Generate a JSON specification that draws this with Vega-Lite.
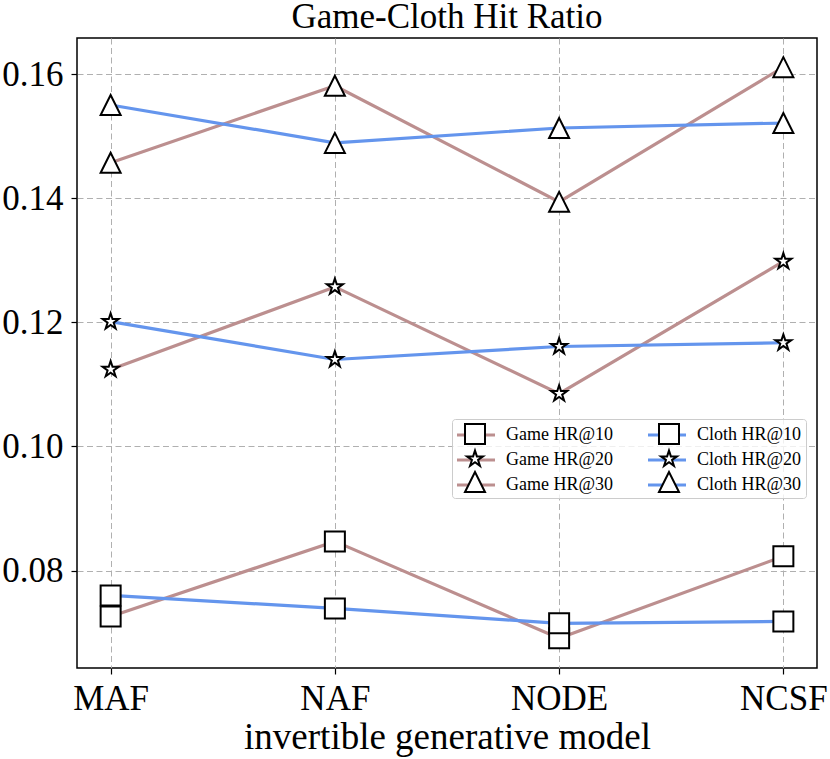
{
  "$schema": "https://vega.github.io/schema/vega-lite/v6.json",
  "autosize": {"type": "none"},
  "padding": {"left": 77, "top": 38, "right": 13, "bottom": 91},
  "width": 740,
  "height": 630,
  "title": {
    "text": "Game-Cloth Hit Ratio",
    "font": "Liberation Serif",
    "fontSize": 35,
    "fontWeight": "normal",
    "color": "black",
    "anchor": "middle",
    "offset": 3
  },
  "data": {
    "values": [
      {"model": "MAF", "series": "Game HR@10", "marker": "g10", "value": 0.0726},
      {"model": "NAF", "series": "Game HR@10", "marker": "g10", "value": 0.0847},
      {"model": "NODE", "series": "Game HR@10", "marker": "g10", "value": 0.0691},
      {"model": "NCSF", "series": "Game HR@10", "marker": "g10", "value": 0.0823},
      {"model": "MAF", "series": "Game HR@20", "marker": "g20", "value": 0.1124},
      {"model": "NAF", "series": "Game HR@20", "marker": "g20", "value": 0.1257},
      {"model": "NODE", "series": "Game HR@20", "marker": "g20", "value": 0.1085},
      {"model": "NCSF", "series": "Game HR@20", "marker": "g20", "value": 0.1298},
      {"model": "MAF", "series": "Game HR@30", "marker": "g30", "value": 0.1457},
      {"model": "NAF", "series": "Game HR@30", "marker": "g30", "value": 0.1581},
      {"model": "NODE", "series": "Game HR@30", "marker": "g30", "value": 0.1394},
      {"model": "NCSF", "series": "Game HR@30", "marker": "g30", "value": 0.1611},
      {"model": "MAF", "series": "Cloth HR@10", "marker": "c10", "value": 0.0760},
      {"model": "NAF", "series": "Cloth HR@10", "marker": "c10", "value": 0.0739},
      {"model": "NODE", "series": "Cloth HR@10", "marker": "c10", "value": 0.0715},
      {"model": "NCSF", "series": "Cloth HR@10", "marker": "c10", "value": 0.0718},
      {"model": "MAF", "series": "Cloth HR@20", "marker": "c20", "value": 0.1201},
      {"model": "NAF", "series": "Cloth HR@20", "marker": "c20", "value": 0.1140},
      {"model": "NODE", "series": "Cloth HR@20", "marker": "c20", "value": 0.1161},
      {"model": "NCSF", "series": "Cloth HR@20", "marker": "c20", "value": 0.1167},
      {"model": "MAF", "series": "Cloth HR@30", "marker": "c30", "value": 0.1550},
      {"model": "NAF", "series": "Cloth HR@30", "marker": "c30", "value": 0.1489},
      {"model": "NODE", "series": "Cloth HR@30", "marker": "c30", "value": 0.1513},
      {"model": "NCSF", "series": "Cloth HR@30", "marker": "c30", "value": 0.1521}
    ]
  },
  "encoding": {
    "x": {
      "field": "model",
      "type": "nominal",
      "sort": ["MAF", "NAF", "NODE", "NCSF"],
      "scale": {"type": "point", "padding": 0.15},
      "axis": {
        "title": "invertible generative model",
        "labelAngle": 0,
        "labelBaseline": "alphabetic",
        "labelPadding": 35,
        "titleBaseline": "alphabetic",
        "titleX": 370,
        "titleY": 80,
        "titleAnchor": "middle"
      }
    },
    "y": {
      "field": "value",
      "type": "quantitative",
      "scale": {"domain": [0.0643, 0.1658], "nice": false, "zero": false},
      "axis": {
        "title": null,
        "values": [0.08, 0.10, 0.12, 0.14, 0.16],
        "format": ".2f",
        "labelPadding": 8
      }
    }
  },
  "layer": [
    {
      "mark": {"type": "line", "strokeWidth": 3.2},
      "encoding": {
        "color": {
          "field": "series",
          "type": "nominal",
          "scale": {
            "domain": ["Game HR@10", "Game HR@20", "Game HR@30", "Cloth HR@10", "Cloth HR@20", "Cloth HR@30"],
            "range": ["#bc8f8f", "#bc8f8f", "#bc8f8f", "#6495ed", "#6495ed", "#6495ed"]
          },
          "legend": {
            "title": null,
            "orient": "none",
            "legendX": 375,
            "legendY": 381,
            "columns": 2,
            "columnPadding": 27,
            "rowPadding": 4,
            "padding": 4,
            "symbolType": "M-1.9,0H1.9",
            "symbolSize": 400,
            "symbolStrokeWidth": 3.2,
            "symbolOffset": 8,
            "labelOffset": 18,
            "labelFont": "Liberation Serif",
            "labelFontSize": 18,
            "labelColor": "black",
            "labelLimit": 0,
            "fillColor": "rgba(255,255,255,0.8)",
            "strokeColor": "#cccccc",
            "cornerRadius": 3
          }
        }
      }
    },
    {
      "mark": {"type": "point", "filled": true, "fill": "white", "strokeWidth": 2, "size": 400, "opacity": 1},
      "encoding": {
        "stroke": {
          "field": "marker",
          "type": "nominal",
          "scale": {
            "domain": ["g10", "g20", "g30", "c10", "c20", "c30"],
            "range": ["black", "black", "black", "black", "black", "black"]
          },
          "legend": {
            "title": null,
            "orient": "none",
            "legendX": 375,
            "legendY": 381,
            "columns": 2,
            "columnPadding": 38,
            "rowPadding": -2,
            "padding": 4,
            "symbolSize": 400,
            "symbolStrokeWidth": 2,
            "symbolFillColor": "white",
            "symbolOpacity": 1,
            "symbolOffset": 8,
            "labelOffset": 18,
            "labelFont": "Liberation Serif",
            "labelFontSize": 18,
            "labelOpacity": 0,
            "labelLimit": 0,
            "labelExpr": "{'g10': 'Game HR@10', 'g20': 'Game HR@20', 'g30': 'Game HR@30', 'c10': 'Cloth HR@10', 'c20': 'Cloth HR@20', 'c30': 'Cloth HR@30'}[datum.label]"
          }
        },
        "shape": {
          "field": "marker",
          "type": "nominal",
          "scale": {
            "domain": ["g10", "g20", "g30", "c10", "c20", "c30"],
            "range": [
              "square",
              "M0,-0.84L0.189,-0.26L0.799,-0.26L0.305,0.099L0.494,0.68L0,0.321L-0.494,0.68L-0.305,0.099L-0.799,-0.26L-0.189,-0.26Z",
              "M0,-1L-1,1L1,1Z",
              "square",
              "M0,-0.84L0.189,-0.26L0.799,-0.26L0.305,0.099L0.494,0.68L0,0.321L-0.494,0.68L-0.305,0.099L-0.799,-0.26L-0.189,-0.26Z",
              "M0,-1L-1,1L1,1Z"
            ]
          },
          "legend": {
            "title": null,
            "orient": "none",
            "legendX": 375,
            "legendY": 381,
            "columns": 2,
            "columnPadding": 38,
            "rowPadding": -2,
            "padding": 4,
            "symbolSize": 400,
            "symbolStrokeWidth": 2,
            "symbolFillColor": "white",
            "symbolOpacity": 1,
            "symbolOffset": 8,
            "labelOffset": 18,
            "labelFont": "Liberation Serif",
            "labelFontSize": 18,
            "labelOpacity": 0,
            "labelLimit": 0,
            "labelExpr": "{'g10': 'Game HR@10', 'g20': 'Game HR@20', 'g30': 'Game HR@30', 'c10': 'Cloth HR@10', 'c20': 'Cloth HR@20', 'c30': 'Cloth HR@30'}[datum.label]"
          }
        }
      }
    }
  ],
  "config": {
    "background": "white",
    "view": {"stroke": "black", "strokeWidth": 1.5},
    "axis": {
      "domain": false,
      "grid": true,
      "gridColor": "#b0b0b0",
      "gridDash": [6, 3.5],
      "gridWidth": 1,
      "ticks": true,
      "tickColor": "black",
      "tickSize": 6,
      "tickWidth": 1.2,
      "labelFont": "Liberation Serif",
      "labelFontSize": 35,
      "labelColor": "black",
      "titleFont": "Liberation Serif",
      "titleFontSize": 37,
      "titleFontWeight": "normal",
      "titleColor": "black"
    }
  }
}
